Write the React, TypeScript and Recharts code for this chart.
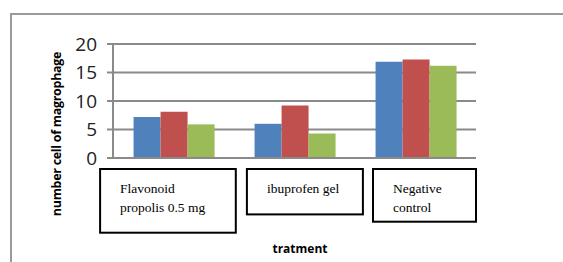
import React from "react";
import { BarChart, Bar, XAxis, YAxis, CartesianGrid } from "recharts";

const categories = ["Flavonoid\npropolis 0.5 mg", "ibuprofen gel", "Negative\ncontrol"];
const series1 = [7.2, 6.0, 16.9];
const series2 = [8.1, 9.2, 17.3];
const series3 = [5.9, 4.3, 16.2];
const yTicks = [0, 5, 10, 15, 20];
const yLabel = "number cell of magrophage";
const xLabel = "tratment";

const data = categories.map((c, i) => ({ name: c, s1: series1[i], s2: series2[i], s3: series3[i] }));

// box geometry per category (style only)
const boxes = [
  { dx: -73.4, w: 135.7, h: 63.7 },
  { dx: -47.6, w: 116, h: 45.4 },
  { dx: -42.5, w: 103, h: 52.7 },
];

const BoxTick = (props: any) => {
  const { x, y, payload } = props;
  const i = payload.index;
  const b = boxes[i] || boxes[0];
  const left = x + b.dx;
  const top = y + 9;
  const lines = String(payload.value).split("\n");
  return (
    <g>
      <rect x={left} y={top} width={b.w} height={b.h} fill="#fff" stroke="#000" strokeWidth={2} />
      {lines.map((l, k) => (
        <text
          key={k}
          x={left + 20}
          y={top + 24.4 + k * 18.3}
          fontFamily="'Liberation Serif', 'Times New Roman', serif"
          fontSize={13.5}
          fill="#000"
        >
          {l}
        </text>
      ))}
    </g>
  );
};

const GRID = "#8a8a8a";

export default function App() {
  return (
    <div style={{ position: "absolute", left: 0, top: 0, width: 563, height: 262, background: "#fff" }}>
      <div
        style={{
          position: "absolute",
          left: 10,
          top: 13,
          width: 560,
          height: 260,
          borderTop: "2px solid #9a9a9a",
          borderLeft: "2px solid #9a9a9a",
        }}
      />
      <div style={{ position: "absolute", left: 0, top: 0 }}>
        <BarChart
          width={563}
          height={262}
          data={data}
          margin={{ top: 44, right: 87, bottom: 0, left: 0 }}
          barCategoryGap="17%"
          barGap={0}
        >
          <CartesianGrid vertical={false} stroke={GRID} strokeWidth={2} />
          <XAxis
            dataKey="name"
            height={104}
            axisLine={{ stroke: GRID, strokeWidth: 2 }}
            tickLine={false}
            tickSize={0}
            tick={<BoxTick />}
            interval={0}
            label={() => (
              <text
                x={300}
                y={253}
                textAnchor="middle"
                fontFamily="'Open Sans', sans-serif"
                fontWeight="bold"
                fontSize={12}
                fill="#000"
              >
                {xLabel}
              </text>
            )}
          />
          <YAxis
            width={113}
            domain={[0, 20]}
            ticks={yTicks}
            interval={0}
            axisLine={{ stroke: GRID, strokeWidth: 2 }}
            tickLine={{ stroke: GRID, strokeWidth: 2 }}
            tickSize={6}
            tickMargin={10}
            tick={{ fontFamily: "'Open Sans', sans-serif", fontSize: 19, fill: "#222" }}
            label={() => (
              <text
                x={61}
                y={134}
                transform="rotate(-90 61 134)"
                textAnchor="middle"
                fontFamily="'Open Sans', sans-serif"
                fontWeight="bold"
                fontSize={12.5}
                letterSpacing={-0.3}
                fill="#000"
              >
                {yLabel}
              </text>
            )}
          />
          <Bar dataKey="s1" fill="#4F81BD" isAnimationActive={false} />
          <Bar dataKey="s2" fill="#C0504D" isAnimationActive={false} />
          <Bar dataKey="s3" fill="#9BBB59" isAnimationActive={false} />
        </BarChart>
      </div>
    </div>
  );
}
